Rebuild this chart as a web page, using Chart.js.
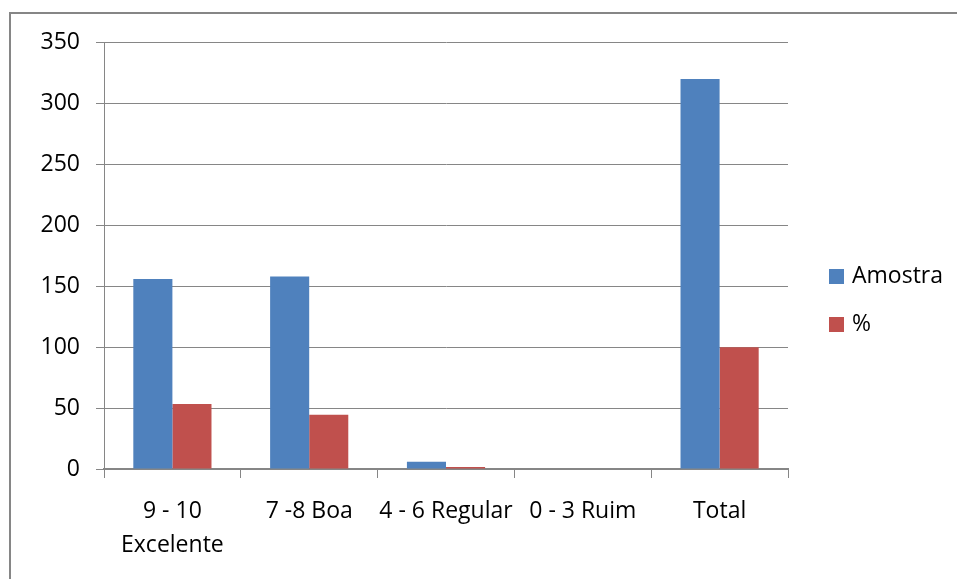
<!DOCTYPE html>
<html>
<head>
<meta charset="utf-8">
<script src="https://cdn.jsdelivr.net/npm/chart.js@4/dist/chart.umd.min.js"></script>
<style>
  html, body { margin: 0; padding: 0; background: #fff; }
  #frame {
    position: absolute; left: 9px; top: 12px; width: 1000px; height: 700px;
    border-left: 2px solid #868686; border-top: 2px solid #868686;
  }
  #wrap { position: absolute; left: 0; top: 0; width: 957px; height: 579px; }
</style>
</head>
<body>
<div id="frame"></div>
<div id="wrap"><canvas id="grafico"></canvas></div>
<script>
// categorias e séries
var categorias = [['9 - 10', 'Excelente'], '7 -8 Boa', '4 - 6 Regular', '0 - 3 Ruim', 'Total'];
var amostra = [156, 158, 6, 0, 320];
var percentual = [53.4, 44.6, 1.7, 0, 100];
var eixoY = { min: 0, max: 350, passo: 50 };

var fonte = { family: '"Open Sans", sans-serif', size: 23 };
var cinza = '#868686';

// legenda desenhada à direita do gráfico
var legendaLateral = {
  id: 'legendaLateral',
  afterDraw: function (chart) {
    var ctx = chart.ctx;
    ctx.save();
    ctx.font = fonte.size + 'px ' + fonte.family;
    ctx.textBaseline = 'middle';
    chart.data.datasets.forEach(function (ds, i) {
      var y = 276.5 + i * 48;
      ctx.fillStyle = ds.backgroundColor;
      ctx.fillRect(829, y - 7.5, 15, 15);
      ctx.fillStyle = '#000';
      ctx.fillText(ds.label, 852, y);
    });
    ctx.restore();
  }
};

var area = document.getElementById('grafico').getContext('2d');
var grafico = new Chart(area, {
  type: 'bar',
  data: {
    labels: categorias,
    datasets: [
      { label: 'Amostra', data: amostra, backgroundColor: '#4F81BD' },
      { label: '%', data: percentual, backgroundColor: '#C0504D' }
    ]
  },
  options: {
    responsive: true,
    maintainAspectRatio: false,
    animation: false,
    categoryPercentage: 2 / 3.5,
    barPercentage: 1,
    layout: { padding: { top: 42.5, right: 169, bottom: 0, left: 0 } },
    plugins: { legend: { display: false }, tooltip: { enabled: false } },
    scales: {
      x: {
        offset: true,
        grid: { offset: true, drawOnChartArea: false, drawTicks: true, tickLength: 9, color: cinza, lineWidth: 1 },
        border: { color: cinza, width: 2 },
        ticks: {
          color: '#000',
          font: { family: fonte.family, size: fonte.size, lineHeight: 34 / 23 },
          padding: 16, maxRotation: 0, autoSkip: false
        },
        afterFit: function (s) { s.height = 110; }
      },
      y: {
        min: eixoY.min,
        max: eixoY.max,
        ticks: { stepSize: eixoY.passo, color: '#000', font: fonte, padding: 16 },
        grid: { color: cinza, lineWidth: 1, tickLength: 8 },
        border: { color: cinza, width: 1 },
        afterFit: function (s) { s.width = 104; }
      }
    }
  },
  plugins: [legendaLateral]
});
</script>
</body>
</html>
